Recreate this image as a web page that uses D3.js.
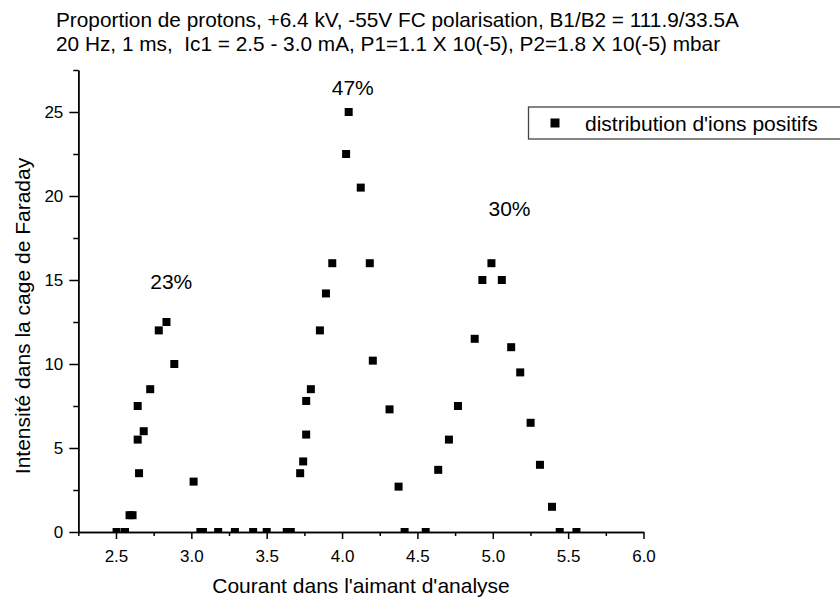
<!DOCTYPE html>
<html>
<head>
<meta charset="utf-8">
<script src="https://cdn.jsdelivr.net/npm/d3@7"></script>
<style>
  body { margin: 0; background: #fff; }
  text { font-family: "Liberation Sans", Arial, sans-serif; fill: #000; }
</style>
</head>
<body>
<div id="chart"></div>
<script>
'use strict';

var titleLines = [
    "Proportion de protons, +6.4 kV, -55V FC polarisation, B1/B2 = 111.9/33.5A",
    "20 Hz, 1 ms,  Ic1 = 2.5 - 3.0 mA, P1=1.1 X 10(-5), P2=1.8 X 10(-5) mbar"
];
var xLabel = "Courant dans l'aimant d'analyse";
var yLabel = "Intensité dans la cage de Faraday";
var legendLabel = "distribution d'ions positifs";

// courant (A) et intensite mesuree
var currentValues = [2.504, 2.56, 2.59, 2.61, 2.644, 2.644, 2.653, 2.684, 2.727, 2.784, 2.835, 2.887,
    3.015, 3.06, 3.077, 3.178, 3.289, 3.41, 3.5, 3.633, 3.66,
    3.722, 3.742, 3.762, 3.762, 3.793, 3.853, 3.893, 3.935, 4.027, 4.044, 4.124, 4.184, 4.204, 4.315, 4.375,
    4.415, 4.555,
    4.638, 4.709, 4.769, 4.88, 4.931, 4.991, 5.06, 5.122, 5.182, 5.251, 5.313, 5.393, 5.444, 5.555];
var intensityValues = [0, 0, 1, 1, 7.5, 5.5, 3.5, 6, 8.5, 12, 12.5, 10,
    3, 0, 0, 0, 0, 0, 0, 0, 0,
    3.5, 4.2, 5.8, 7.8, 8.5, 12, 14.2, 16, 22.5, 25, 20.5, 16, 10.2, 7.3, 2.7,
    0, 0,
    3.7, 5.5, 7.5, 11.5, 15, 16, 15, 11, 9.5, 6.5, 4, 1.5, 0, 0];

var percentLabels = ["23%", "47%", "30%"];
var percentX = [2.867, 4.071, 5.111];
var percentY = [14.47, 26.04, 18.78];

var xTicks = [2.5, 3.0, 3.5, 4.0, 4.5, 5.0, 5.5, 6.0];
var xMinorTicks = [2.25, 2.75, 3.25, 3.75, 4.25, 4.75, 5.25, 5.75];
var yTicks = [0, 5, 10, 15, 20, 25];
var yMinorTicks = [2.5, 7.5, 12.5, 17.5, 22.5, 27.5];

var myChart = {};

myChart.width = 840;
myChart.height = 599;
myChart.left = 78.3;
myChart.right = 643.5;
myChart.top = 70;
myChart.bottom = 532;
myChart.font = "21px";

myChart.xScale = d3.scaleLinear().domain([2.25, 6.0]).range([myChart.left, myChart.right]);
myChart.yScale = d3.scaleLinear().domain([0, 27.5]).range([myChart.bottom, myChart.top]);

myChart.appendSVG = function(div){
    var svg = d3.select(div).append("svg")
                .attr("width", myChart.width)
                .attr("height", myChart.height);
    return svg;
}

myChart.createTitle = function(svg){
    svg.selectAll(".title")
        .data(titleLines)
        .enter()
            .append("text")
            .classed("title", true)
            .attr("x", 56)
            .attr("y", function(d, i){ return 27 + i * 23.5; })
            .style("font-size", "20.8px")
            .style("white-space", "pre")
            .text(function(d){ return d; });
}

myChart.createPoints = function(svg){
    var x = myChart.xScale, y = myChart.yScale;
    var size = 8;

    svg.append("clipPath")
        .attr("id", "plotClip")
        .append("rect")
            .attr("x", myChart.left)
            .attr("y", myChart.top - 10)
            .attr("width", myChart.right - myChart.left + 10)
            .attr("height", myChart.bottom - myChart.top + 10);

    svg.append("g")
        .attr("clip-path", "url(#plotClip)")
        .selectAll(".point")
        .data(currentValues)
        .enter()
            .append("rect")
            .classed("point", true)
            .attr("x", function(d){ return x(d) - size / 2; })
            .attr("y", function(d, i){ return y(intensityValues[i]) - size / 2; })
            .attr("width", size)
            .attr("height", size)
            .style("fill", "#000");
}

myChart.createAxes = function(svg){
    var x = myChart.xScale, y = myChart.yScale;

    var xMinor = svg.append("g")
        .attr("transform", "translate(0," + myChart.bottom + ")")
        .call(d3.axisBottom(x).tickValues(xMinorTicks).tickSize(4).tickSizeOuter(0).tickFormat(""));
    var xMajor = svg.append("g")
        .attr("transform", "translate(0," + myChart.bottom + ")")
        .call(d3.axisBottom(x).tickValues(xTicks).tickSize(7).tickSizeOuter(0).tickPadding(11)
            .tickFormat(d3.format(".1f")));

    var yMinor = svg.append("g")
        .attr("transform", "translate(" + myChart.left + ",0)")
        .call(d3.axisLeft(y).tickValues(yMinorTicks).tickSize(5).tickSizeOuter(0).tickFormat(""));
    var yMajor = svg.append("g")
        .attr("transform", "translate(" + myChart.left + ",0)")
        .call(d3.axisLeft(y).tickValues(yTicks).tickSize(9).tickSizeOuter(0).tickPadding(6));

    [xMinor, xMajor, yMinor, yMajor].forEach(function(g){
        g.selectAll("path, line").style("stroke", "#000").style("stroke-width", 1.5);
        g.selectAll("text")
            .style("font-family", "'Liberation Sans', Arial, sans-serif")
            .style("font-size", "17px")
            .style("fill", "#000");
    });

    svg.append("text")
        .attr("x", 361)
        .attr("y", 593)
        .attr("text-anchor", "middle")
        .style("font-size", myChart.font)
        .text(xLabel);

    svg.append("text")
        .attr("transform", "translate(30,316) rotate(-90)")
        .attr("text-anchor", "middle")
        .style("font-size", myChart.font)
        .text(yLabel);
}

myChart.createAnnotations = function(svg){
    var x = myChart.xScale, y = myChart.yScale;
    svg.selectAll(".pct")
        .data(percentLabels)
        .enter()
            .append("text")
            .classed("pct", true)
            .attr("x", function(d, i){ return x(percentX[i]); })
            .attr("y", function(d, i){ return y(percentY[i]); })
            .attr("text-anchor", "middle")
            .style("font-size", myChart.font)
            .text(function(d){ return d; });
}

myChart.createLegend = function(svg){
    var g = svg.append("g").attr("transform", "translate(528.5,107)");
    g.append("rect")
        .attr("width", 320)
        .attr("height", 32)
        .style("fill", "#fff")
        .style("stroke", "#444")
        .style("stroke-width", 1.3);
    g.append("rect")
        .attr("x", 22)
        .attr("y", 11.5)
        .attr("width", 9)
        .attr("height", 9)
        .style("fill", "#000");
    g.append("text")
        .attr("x", 56.5)
        .attr("y", 24)
        .style("font-size", myChart.font)
        .text(legendLabel);
}

myChart.run = function(){
    var svg = myChart.appendSVG("#chart");
    myChart.createTitle(svg);
    myChart.createPoints(svg);
    myChart.createAxes(svg);
    myChart.createAnnotations(svg);
    myChart.createLegend(svg);
}

window.onload = myChart.run;
</script>
</body>
</html>
